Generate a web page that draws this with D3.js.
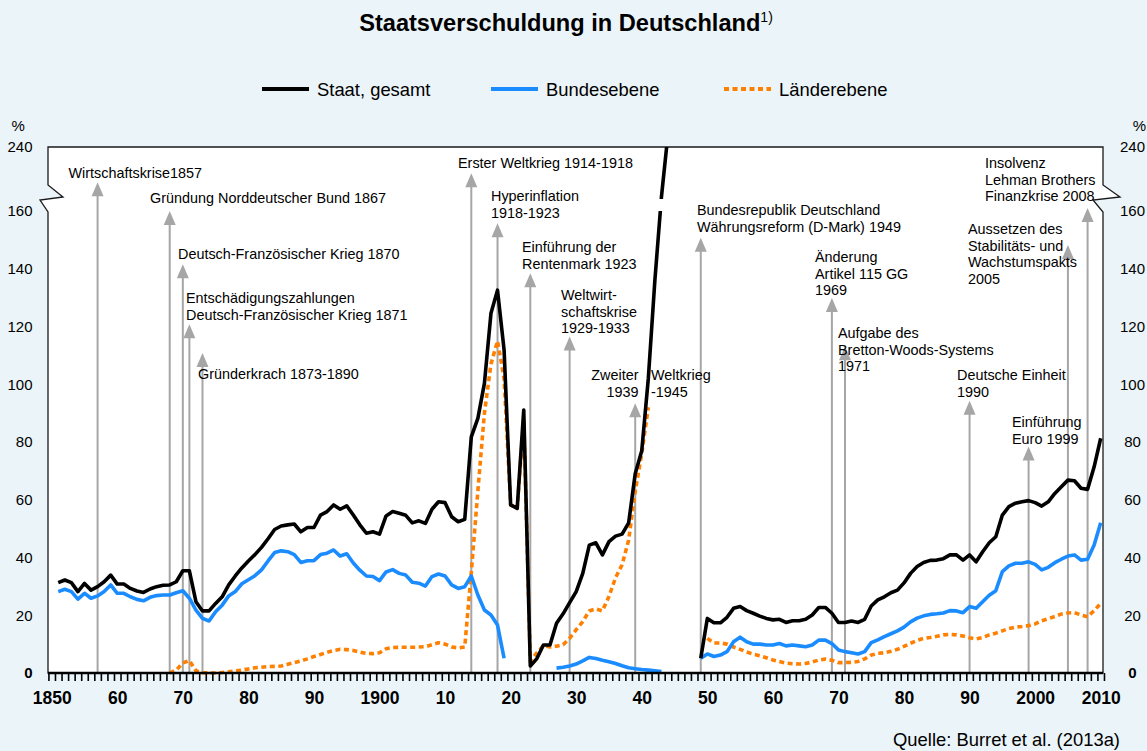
<!DOCTYPE html>
<html>
<head>
<meta charset="utf-8">
<script src="https://cdn.jsdelivr.net/npm/d3@7"></script>
<style>
  html, body { margin: 0; padding: 0; background: #EBF4F8; }
  svg { display: block; font-family: "Liberation Sans", Arial, sans-serif; }
</style>
</head>
<body>
<svg id="chart" width="1147" height="751"></svg>
<script>
// ---- Schuldenquoten in % des BIP ----
// Staat, gesamt
const staatStart1 = 1851;
const staat1851bis1944 = [
  31.3, 32.2, 31.3, 28.2, 31.0, 28.7, 29.9, 31.6, 33.9, 30.8,
  30.8, 29.3, 28.4, 27.9, 29.1, 29.9, 30.4, 30.5, 31.6, 35.4,
  35.4, 24.7, 21.5, 21.5, 24.1, 26.4, 30.5, 33.6, 36.4, 38.8,
  41.0, 43.5, 46.5, 49.7, 50.9, 51.3, 51.6, 48.9, 50.4, 50.4,
  54.7, 55.9, 58.2, 56.7, 57.9, 54.7, 51.3, 48.4, 48.9, 48.1,
  54.4, 55.9, 55.3, 54.6, 52.0, 52.7, 51.8, 56.7, 59.3, 59.0,
  54.1, 52.4, 53.2, 81.8, 88.2, 100.3, 124.6, 132.6, 111.9, 58.2,
  57.0, 91.1, 2.4, 5.0, 9.7, 9.7, 17.2, 20.5, 24.4, 28.2,
  34.5, 44.3, 45.1, 40.9, 45.5, 47.4, 48.1, 52.0, 69.0, 77.0,
  102, 136, 163, 260
];
const staatStart2 = 1949;
const staat1949bis2010 = [
  5.1, 18.9, 17.4, 17.4, 19.3, 22.4, 23.0, 21.6, 20.7, 19.7,
  18.9, 18.4, 18.6, 17.5, 18.1, 18.1, 18.6, 20.1, 22.7, 22.7,
  20.7, 17.5, 17.5, 18.0, 17.5, 18.6, 23.2, 25.3, 26.4, 27.8,
  28.7, 31.2, 34.5, 36.9, 38.3, 39.0, 39.1, 39.6, 40.9, 40.9,
  39.1, 40.9, 38.5, 42.0, 45.1, 47.2, 54.7, 57.6, 58.8, 59.3,
  59.7, 59.0, 57.8, 59.3, 62.2, 64.5, 66.8, 66.6, 64.0, 63.6,
  71.4, 81.3
];

// Bundesebene
const bundStart1 = 1851;
const bund1851bis1919 = [
  28.2, 29.0, 28.2, 25.6, 27.6, 25.9, 26.7, 28.2, 30.5, 27.6,
  27.6, 26.4, 25.5, 25.0, 26.2, 26.8, 27.0, 27.0, 27.8, 28.5,
  25.9, 21.8, 18.9, 18.0, 21.2, 23.5, 26.7, 28.2, 30.9, 32.3,
  33.7, 35.7, 38.8, 41.7, 42.3, 42.0, 41.0, 38.3, 38.9, 38.9,
  41.0, 41.5, 42.6, 40.5, 41.3, 38.1, 35.6, 33.6, 33.4, 32.0,
  35.0, 35.8, 34.5, 33.9, 31.4, 31.1, 30.1, 33.4, 34.3, 33.6,
  30.5, 29.3, 29.9, 33.6, 27.0, 21.8, 20.1, 16.6, 5.1
];
const bundStart2 = 1927;
const bund1927bis1943 = [
  1.7, 2.0, 2.4, 3.1, 4.2, 5.4, 5.0, 4.4, 3.9, 3.3,
  2.5, 1.8, 1.5, 1.2, 1.0, 0.8, 0.5
];
const bundStart3 = 1949;
const bund1949bis2010 = [
  5.1, 6.6, 5.7, 6.2, 7.4, 10.8, 12.4, 10.8, 10.0, 10.0,
  9.7, 9.7, 10.2, 9.4, 9.7, 9.4, 9.1, 9.7, 11.4, 11.4,
  10.2, 8.0, 7.4, 7.0, 6.6, 7.4, 10.5, 11.5, 12.6, 13.6,
  14.6, 15.9, 17.7, 19.0, 19.8, 20.3, 20.5, 20.8, 21.6, 21.5,
  20.9, 23.0, 22.4, 24.7, 26.9, 28.5, 35.1, 37.1, 38.0, 38.0,
  38.5, 37.6, 35.7, 36.6, 38.2, 39.4, 40.5, 40.9, 39.1, 39.4,
  44.3, 52.0
];

// Länderebene
const laenderStart1 = 1868;
const laender1868bis1941 = [
  0.0, 1.0, 3.5, 4.3, 0.8, 0.1, 0.0, 0.0, 0.2, 0.4,
  0.7, 1.0, 1.4, 1.8, 2.0, 2.2, 2.3, 2.4, 3.0, 3.6,
  4.2, 4.9, 5.7, 6.4, 7.2, 7.8, 8.2, 8.1, 7.8, 7.2,
  6.8, 6.7, 7.0, 8.4, 8.8, 8.9, 8.9, 8.9, 9.0, 9.1,
  9.8, 10.5, 10.0, 9.0, 8.7, 9.0, 35.0, 63.0, 90.0, 107.0,
  115.0, 102.0, 58.2, 57.0, 88.0, 4.0, 7.0, 9.5, 9.0, 9.3,
  9.8, 12.0, 15.0, 17.8, 21.5, 22.2, 21.5, 26.5, 33.0, 37.5,
  46.0, 63.0, 76.0, 92.0
];
const laenderStart2 = 1950;
const laender1950bis2010 = [
  12.0, 10.4, 10.4, 10.0, 9.0, 8.2, 7.3, 6.5, 6.0, 5.3,
  4.5, 4.0, 3.4, 3.2, 3.1, 3.3, 3.8, 4.5, 4.8, 4.4,
  3.6, 3.6, 3.7, 4.0, 4.9, 6.2, 6.8, 7.0, 7.5, 8.2,
  9.2, 10.3, 11.3, 12.0, 12.3, 12.7, 13.2, 13.4, 13.2, 12.8,
  12.2, 11.8, 12.3, 13.2, 13.8, 14.6, 15.4, 15.9, 16.1, 16.4,
  17.0, 18.1, 18.8, 19.6, 20.4, 20.8, 20.9, 20.1, 19.5, 21.6,
  24.1
];

// Achsenbeschriftung
const xTickYears = [1850, 1860, 1870, 1880, 1890, 1900, 1910, 1920, 1930, 1940, 1950, 1960, 1970, 1980, 1990, 2000, 2010];
const xTickLabels = ["1850", "60", "70", "80", "90", "1900", "10", "20", "30", "40", "50", "60", "70", "80", "90", "2000", "2010"];
const yTicksLow = [0, 20, 40, 60, 80, 100, 120, 140, 160];
const yTicksHigh = [240];

// Ereignisse: Pfeilposition (Jahr), Pfeilspitze (% auf der unteren Skala)
const eventYears = [1857, 1868, 1870, 1871, 1873, 1914, 1918, 1923, 1929, 1939, 1949, 1969, 1971, 1990, 1999, 2005, 2008];
const eventTips  = [170, 160, 141.6, 120.8, 110.8, 173.1, 155.8, 138.4, 116.5, 93.4, 150.7, 129.9, 113.2, 94.3, 78.4, 148.2, 161];
const eventTexts = [
  ["Wirtschaftskrise1857"],
  ["Gründung Norddeutscher Bund 1867"],
  ["Deutsch-Französischer Krieg 1870"],
  ["Entschädigungszahlungen", "Deutsch-Französischer Krieg 1871"],
  ["Gründerkrach 1873-1890"],
  ["Erster Weltkrieg 1914-1918"],
  ["Hyperinflation", "1918-1923"],
  ["Einführung der", "Rentenmark 1923"],
  ["Weltwirt-", "schaftskrise", "1929-1933"],
  ["Zweiter", "1939"],
  ["Bundesrepublik Deutschland", "Währungsreform (D-Mark) 1949"],
  ["Änderung", "Artikel 115 GG", "1969"],
  ["Aufgabe des", "Bretton-Woods-Systems", "1971"],
  ["Deutsche Einheit", "1990"],
  ["Einführung", "Euro 1999"],
  ["Aussetzen des", "Stabilitäts- und", "Wachstumspakts", "2005"],
  ["Insolvenz", "Lehman Brothers", "Finanzkrise 2008"]
];
// Textblock-Lage: linke Kante und erste Grundlinie
const eventTextPos = [
  [68.5, 178], [150, 203], [178, 259], [186, 303], [198, 379],
  [458, 168], [491, 201], [522, 252], [561, 300], [638.5, 380, "end"],
  [697, 215], [815, 262], [838, 338], [957, 380], [1012, 427],
  [968, 234], [985, 168]
];
const extraText = { lines: ["Weltkrieg", "-1945"], x: 651, y: 380 };

// ---- Aufbau ----
const svg = d3.select("#chart");
const pLeft = 48, pRight = 1103, pTop = 147, pBottom = 673;
const breakLo = 211, breakHi = 199;   // Achsenbruch zwischen 160 und höher

const x = d3.scaleLinear().domain([1850, 2010]).range([51.7, 1100.7]);
const yLow = d3.scaleLinear().domain([0, 160]).range([pBottom, breakLo]);
const yHigh = d3.scaleLinear().domain([160, 240]).range([breakHi, pTop]);
const y = v => (v <= 160 ? yLow(v) : yHigh(v));

// Zeichenfläche mit Bruchzeichen links und rechts
const plotShape = [
  [pLeft, pTop], [pRight, pTop], [pRight, 185], [1120, 197], [1093, 200], [pRight, 212],
  [pRight, pBottom], [pLeft, pBottom], [pLeft, 212], [40, 200], [63, 197], [pLeft, 185]
];
svg.append("path")
  .attr("d", d3.line()(plotShape) + "Z")
  .attr("fill", "#ffffff")
  .attr("stroke", "#1a1a1a")
  .attr("stroke-width", 1.3)
  .attr("stroke-linejoin", "miter");

// Clip: Zeichenfläche ohne Bruchband
const defs = svg.append("defs");
const clip = defs.append("clipPath").attr("id", "plotclip");
clip.append("rect").attr("x", pLeft).attr("y", pTop).attr("width", pRight - pLeft).attr("height", breakHi - pTop);
clip.append("rect").attr("x", pLeft).attr("y", breakLo).attr("width", pRight - pLeft).attr("height", pBottom + 6 - breakLo);

// Ereignispfeile
const arrowG = svg.append("g").attr("class", "events");
eventYears.forEach((yr, i) => {
  const ax = x(yr), tip = yLow(eventTips[i]);
  arrowG.append("line")
    .attr("x1", ax).attr("x2", ax)
    .attr("y1", tip + 10).attr("y2", pBottom)
    .attr("stroke", "#a6a6a6").attr("stroke-width", 2);
  arrowG.append("path")
    .attr("d", `M${ax},${tip} L${ax - 6},${tip + 14} L${ax + 6},${tip + 14} Z`)
    .attr("fill", "#a6a6a6");
});

// Linien
const line = d3.line()
  .x(d => x(d.year))
  .y(d => y(d.v));
const toPoints = (start, vals) => vals.map((v, i) => ({ year: start + i, v }));

const linesG = svg.append("g").attr("clip-path", "url(#plotclip)");
const series = [
  { pts: toPoints(laenderStart1, laender1868bis1941), color: "#ff8000", dash: "5,3.5" },
  { pts: toPoints(laenderStart2, laender1950bis2010), color: "#ff8000", dash: "5,3.5" },
  { pts: toPoints(bundStart1, bund1851bis1919), color: "#1a8cff", dash: null },
  { pts: toPoints(bundStart2, bund1927bis1943), color: "#1a8cff", dash: null },
  { pts: toPoints(bundStart3, bund1949bis2010), color: "#1a8cff", dash: null },
  { pts: toPoints(staatStart1, staat1851bis1944), color: "#000000", dash: null },
  { pts: toPoints(staatStart2, staat1949bis2010), color: "#000000", dash: null }
];
series.forEach(s => {
  linesG.append("path")
    .datum(s.pts)
    .attr("d", line)
    .attr("fill", "none")
    .attr("stroke", s.color)
    .attr("stroke-width", 3.6)
    .attr("stroke-linejoin", "round")
    .attr("stroke-dasharray", s.dash);
});

// Ereignistexte
const textG = svg.append("g").attr("font-size", 14.4).attr("fill", "#000");
eventTexts.forEach((lines, i) => {
  const [tx, ty, anchor] = eventTextPos[i];
  const t = textG.append("text").attr("text-anchor", anchor || "start");
  lines.forEach((s, j) => t.append("tspan").attr("x", tx).attr("y", ty + j * 16.5).text(s));
});
{
  const t = textG.append("text");
  extraText.lines.forEach((s, j) => t.append("tspan").attr("x", extraText.x).attr("y", extraText.y + j * 16.5).text(s));
}

// x-Achse: Jahresstriche und Dekadenbeschriftung
const minorTicks = d3.range(1849.5, 2010.6, 1);
svg.append("g")
  .attr("transform", `translate(0,${pBottom})`)
  .call(d3.axisBottom(x).tickValues(minorTicks).tickSize(8).tickFormat(""))
  .call(g => g.select(".domain").remove())
  .call(g => g.selectAll("line").attr("stroke", "#000").attr("stroke-width", 1.6));
svg.append("g")
  .attr("transform", `translate(0,${pBottom})`)
  .call(d3.axisBottom(x).tickValues(xTickYears).tickSize(0).tickPadding(19)
    .tickFormat((d, i) => xTickLabels[i]))
  .call(g => g.select(".domain").remove())
  .call(g => g.selectAll("text")
    .attr("font-family", "'Liberation Sans', Arial, sans-serif")
    .attr("font-size", 17.5).attr("font-weight", "bold").attr("fill", "#000"));
svg.append("line")
  .attr("x1", pLeft).attr("x2", pRight).attr("y1", pBottom).attr("y2", pBottom)
  .attr("stroke", "#000").attr("stroke-width", 2.5);

// y-Beschriftung links und rechts
const yLab = svg.append("g").attr("font-size", 15).attr("fill", "#000");
[...yTicksLow.map(v => [v, yLow(v)]), ...yTicksHigh.map(v => [v, yHigh(v)])].forEach(([v, py]) => {
  yLab.append("text").attr("x", 32.5).attr("y", py).attr("dy", "0.35em")
    .attr("text-anchor", "end").attr("font-weight", v === 0 ? "bold" : null).text(v);
  yLab.append("text").attr("x", 1132.5).attr("y", py).attr("dy", "0.35em")
    .attr("text-anchor", "middle").attr("font-weight", v === 0 ? "bold" : null).text(v);
});
yLab.append("text").attr("x", 11.5).attr("y", 130.5).text("%");
yLab.append("text").attr("x", 1146).attr("y", 130.5).attr("text-anchor", "end").text("%");

// Titel
const title = svg.append("text").attr("x", 566).attr("y", 30.5).attr("text-anchor", "middle")
  .attr("font-size", 23.6).attr("font-weight", "bold").attr("fill", "#000");
title.append("tspan").text("Staatsverschuldung in Deutschland");
title.append("tspan").attr("font-size", 14).attr("font-weight", "normal").attr("dy", -9).text("1)");

// Legende
const legendItems = [
  { label: "Staat, gesamt", color: "#000000", dash: null, x: 262 },
  { label: "Bundesebene", color: "#1a8cff", dash: null, x: 491 },
  { label: "Länderebene", color: "#ff8000", dash: "5,3.5", x: 724 }
];
const lg = svg.append("g");
legendItems.forEach(it => {
  lg.append("line").attr("x1", it.x).attr("x2", it.x + 47).attr("y1", 89).attr("y2", 89)
    .attr("stroke", it.color).attr("stroke-width", 4).attr("stroke-dasharray", it.dash);
  lg.append("text").attr("x", it.x + 55).attr("y", 95.5).attr("font-size", 18.4).text(it.label);
});

// Quelle
svg.append("text").attr("x", 1120).attr("y", 746).attr("text-anchor", "end")
  .attr("font-size", 18.4).text("Quelle: Burret et al. (2013a)");
</script>
</body>
</html>
